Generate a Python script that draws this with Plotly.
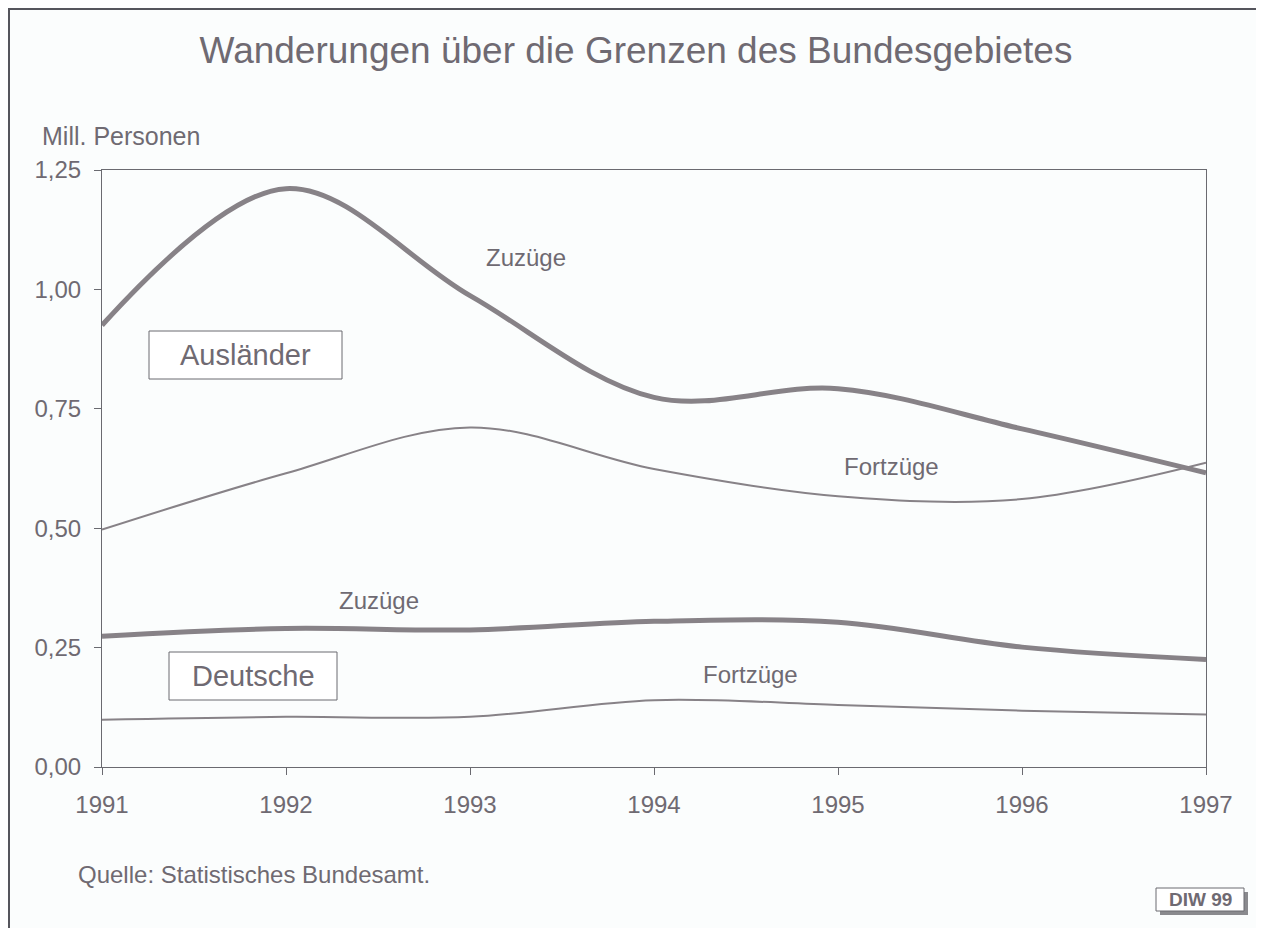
import plotly.graph_objects as go

years = [1991, 1992, 1993, 1994, 1995, 1996, 1997]
auslaender_zuzuege = [0.925, 1.211, 0.987, 0.774, 0.792, 0.708, 0.616]
auslaender_fortzuege = [0.497, 0.615, 0.711, 0.624, 0.567, 0.561, 0.637]
deutsche_zuzuege = [0.274, 0.290, 0.287, 0.305, 0.303, 0.251, 0.225]
deutsche_fortzuege = [0.099, 0.105, 0.105, 0.140, 0.130, 0.118, 0.110]
y_ticks = [0, 0.25, 0.5, 0.75, 1.0, 1.25]

# page is 1264x928 but the plot div sits at an 8px body margin
OFF = 8
W, H = 1264 - OFF, 928 - OFF
L, R, T, B = 102, 1206, 170, 767          # plot area in page pixels
TXT = "#6f6a72"
LINE = "#878287"
AX = "#6a6a70"
FONT = "Liberation Sans, Arial, sans-serif"


def px(x):
    return (x - L) / (R - L)


def py(y):
    return (B - y) / (B - T)


fig = go.Figure()
fig.add_trace(go.Scatter(x=years, y=auslaender_zuzuege, mode="lines",
                         line=dict(color=LINE, width=5, shape="spline", smoothing=1.0)))
fig.add_trace(go.Scatter(x=years, y=auslaender_fortzuege, mode="lines",
                         line=dict(color=LINE, width=2, shape="spline", smoothing=1.0)))
fig.add_trace(go.Scatter(x=years, y=deutsche_zuzuege, mode="lines",
                         line=dict(color=LINE, width=5, shape="spline", smoothing=1.0)))
fig.add_trace(go.Scatter(x=years, y=deutsche_fortzuege, mode="lines",
                         line=dict(color=LINE, width=2, shape="spline", smoothing=1.0)))

shapes = [
    # outer frame
    dict(type="rect", xref="paper", yref="paper", x0=px(9), x1=px(1260), y0=py(9), y1=py(940),
         line=dict(color="#55555c", width=2)),
    # DIW box shadow + box
    dict(type="rect", xref="paper", yref="paper", x0=px(1160), x1=px(1248), y0=py(892), y1=py(915),
         line=dict(width=0), fillcolor="#8a8a8e"),
    dict(type="rect", xref="paper", yref="paper", x0=px(1156), x1=px(1244), y0=py(888), y1=py(911),
         line=dict(color=AX, width=1), fillcolor="white"),
    # label boxes
    dict(type="rect", xref="paper", yref="paper", x0=px(149), x1=px(342), y0=py(331), y1=py(379),
         line=dict(color=AX, width=1), fillcolor="white"),
    dict(type="rect", xref="paper", yref="paper", x0=px(169), x1=px(337), y0=py(652), y1=py(700),
         line=dict(color=AX, width=1), fillcolor="white"),
]


def ann(text, x, y, size=24, xanchor="center", yanchor="middle", bold=False):
    return dict(text=("<b>%s</b>" % text) if bold else text, xref="paper", yref="paper",
                x=px(x), y=py(y), xanchor=xanchor, yanchor=yanchor, showarrow=False,
                font=dict(family=FONT, size=size, color=TXT))


annotations = [
    ann("Mill. Personen", 40, 136, size=25, xanchor="left"),
    ann("Ausländer", 245, 355, size=29),
    ann("Deutsche", 253, 676, size=29),
    ann("Zuzüge", 526, 257),
    ann("Fortzüge", 891, 466),
    ann("Zuzüge", 379, 600),
    ann("Fortzüge", 750, 674),
    ann("Quelle: Statistisches Bundesamt.", 76, 874, xanchor="left"),
    ann("DIW 99", 1200, 900, size=19, bold=True),
]

fig.update_layout(
    width=W, height=H,
    margin=dict(l=L - OFF, r=1264 - R, t=T - OFF, b=928 - B),
    paper_bgcolor="#fbfdfd", plot_bgcolor="#fbfdfd",
    showlegend=False,
    separators=",.",
    font=dict(family=FONT, size=24, color=TXT),
    title=dict(text="Wanderungen über die Grenzen des Bundesgebietes",
               x=(636 - OFF) / W, xanchor="center", y=1 - (50 - OFF) / H, yanchor="middle",
               font=dict(family=FONT, size=37, color=TXT)),
    xaxis=dict(range=[1991, 1997], tickmode="array", tickvals=years,
               ticktext=[str(y) for y in years], ticks="outside", ticklen=7,
               tickcolor=AX, showline=True, linecolor=AX, linewidth=1,
               mirror=True, showgrid=False, zeroline=False, ticklabelstandoff=9,
               tickfont=dict(family=FONT, size=24, color=TXT)),
    yaxis=dict(range=[0, 1.25], tickmode="array", tickvals=y_ticks, tickformat=".2f",
               ticks="outside", ticklen=7, tickcolor=AX, showline=True,
               linecolor=AX, linewidth=1, mirror=True, showgrid=False, zeroline=False,
               ticklabelstandoff=8,
               tickfont=dict(family=FONT, size=24, color=TXT)),
    shapes=shapes,
    annotations=annotations,
)

fig.write_html("out.html")
